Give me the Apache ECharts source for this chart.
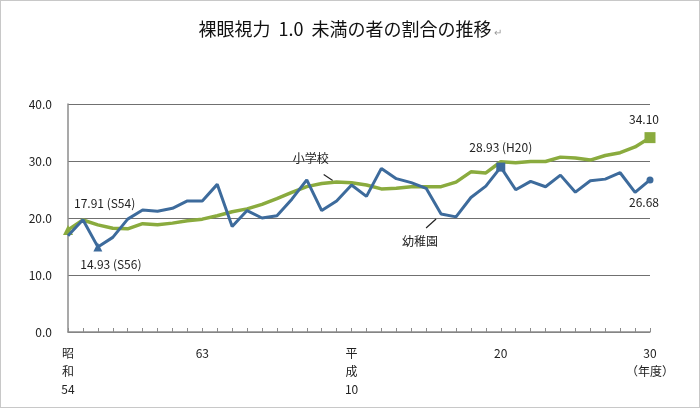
<!DOCTYPE html>
<html>
<head>
<meta charset="utf-8">
<script src="https://cdn.jsdelivr.net/npm/echarts@6/dist/echarts.min.js"></script>
<style>
html,body{margin:0;padding:0;background:#fff;}
#wrap{position:absolute;left:0;top:0;width:698px;height:406px;border:1px solid #c8c8c8;}
#c{width:700px;height:408px;position:absolute;left:-1px;top:-1px;}
</style>
</head>
<body>
<div id="wrap"><div id="c"></div></div>
<script>
var categories = ['S54','S55','S56','S57','S58','S59','S60','S61','S62','S63',
  'H1','H2','H3','H4','H5','H6','H7','H8','H9','H10',
  'H11','H12','H13','H14','H15','H16','H17','H18','H19','H20',
  'H21','H22','H23','H24','H25','H26','H27','H28','H29','H30'];
var tickLabels = {0:'昭\n和\n54', 9:'63', 19:'平\n成\n10', 29:'20', 39:'30\n（年度）'};
var elementary = [17.91,19.65,18.8,18.2,18.1,19.0,18.8,19.1,19.5,19.8,
  20.4,21.1,21.6,22.4,23.4,24.5,25.5,26.05,26.3,26.2,
  25.8,25.1,25.2,25.5,25.5,25.5,26.3,28.1,27.9,29.87,
  29.71,29.91,29.91,30.68,30.52,30.16,30.97,31.46,32.46,34.10];
var kindergarten = [16.9,19.7,14.93,16.6,19.8,21.4,21.2,21.7,23.0,23.0,
  25.9,18.5,21.3,20.0,20.4,23.3,26.7,21.3,23.0,25.8,
  23.8,28.7,26.9,26.2,25.2,20.7,20.2,23.6,25.6,28.93,
  24.96,26.43,25.48,27.52,24.53,26.53,26.82,27.94,24.48,26.68];
var yTicks = [0,10,20,30,40];

var BLUE = '#3d6b9c', GREEN = '#8aab3e';
var FONT = '"Noto Sans CJK JP", sans-serif';

var greenSpecial = {
  0: {symbol:'triangle', size:10, label:'17.91 (S54)', pos:'right', offset:[-4,-26]},
  39:{symbol:'rect', size:11, label:'34.10', pos:'top', offset:[-6,-2]}
};
var blueSpecial = {
  2: {symbol:'triangle', size:9, label:'14.93 (S56)', pos:'bottom', offset:[13,2]},
  29:{symbol:'rect', size:9, label:'28.93 (H20)', pos:'top', offset:[0,-4]},
  39:{symbol:'circle', size:7, label:'26.68', pos:'bottom', offset:[-6,8]}
};
function build(vals, special, color){
  return vals.map(function(v,i){
    var s = special[i];
    if(!s) return {value:v, symbol:'none'};
    return {value:v, symbol:s.symbol, symbolSize:s.size,
      itemStyle:{color:color},
      label:{show:true, formatter:s.label, position:s.pos, offset:s.offset,
        color:'#222', fontSize:12, fontFamily:FONT}};
  });
}

var chart = echarts.init(document.getElementById('c'));
chart.setOption({
  animation:false,
  title:{text:'裸眼視力  1.0  未満の者の割合の推移{m|↵}', left:'center', top:15,
    textStyle:{fontSize:18, fontWeight:'normal', color:'#111', fontFamily:FONT,
      rich:{m:{fontSize:10, color:'#999', padding:[7,0,0,2]}}}},
  grid:{left:68, right:50, top:104, bottom:76},
  xAxis:{type:'category', data:categories, boundaryGap:false,
    axisLine:{lineStyle:{color:'#8c8c8c', width:1.5}},
    axisTick:{show:true, inside:true, length:4, interval:0, lineStyle:{color:'#8c8c8c'}},
    axisLabel:{interval:0, margin:12, color:'#222', fontSize:12, fontFamily:FONT, lineHeight:18,
      formatter:function(v,i){ return tickLabels[i] || ''; }},
    splitLine:{show:false}},
  yAxis:{type:'value', min:yTicks[0], max:yTicks[yTicks.length-1], interval:10,
    axisLine:{show:true, lineStyle:{color:'#8c8c8c', width:1.5}},
    axisTick:{show:false},
    axisLabel:{margin:16, color:'#222', fontSize:12, fontFamily:FONT,
      formatter:function(v){ return v.toFixed(1); }},
    splitLine:{lineStyle:{color:'#707070', width:1}}},
  series:[
    {name:'小学校', type:'line', data:build(elementary, greenSpecial, GREEN),
      lineStyle:{color:GREEN, width:3.5}, itemStyle:{color:GREEN}, z:3},
    {name:'幼稚園', type:'line', data:build(kindergarten, blueSpecial, BLUE),
      lineStyle:{color:BLUE, width:3}, itemStyle:{color:BLUE}, z:4}
  ]
});

function px(seriesIndex, i, v){ return chart.convertToPixel({seriesIndex:seriesIndex}, [i, v]); }
var pg = px(0, 17, elementary[17]);
var pb = px(1, 25, kindergarten[25]);
chart.setOption({graphic:[
  {type:'text', left:pg[0]-29, top:pg[1]-31, style:{text:'小学校', fill:'#222', font:'12px '+FONT}},
  {type:'line', shape:{x1:pg[0]+2, y1:pg[1]-9, x2:pg[0]+11, y2:pg[1]-3}, style:{stroke:'#222', lineWidth:1.2}},
  {type:'text', left:pb[0]-39, top:pb[1]+21, style:{text:'幼稚園', fill:'#222', font:'12px '+FONT}},
  {type:'line', shape:{x1:pb[0]-15, y1:pb[1]+14, x2:pb[0]-5, y2:pb[1]+5}, style:{stroke:'#222', lineWidth:1.2}}
]});
</script>
</body>
</html>
